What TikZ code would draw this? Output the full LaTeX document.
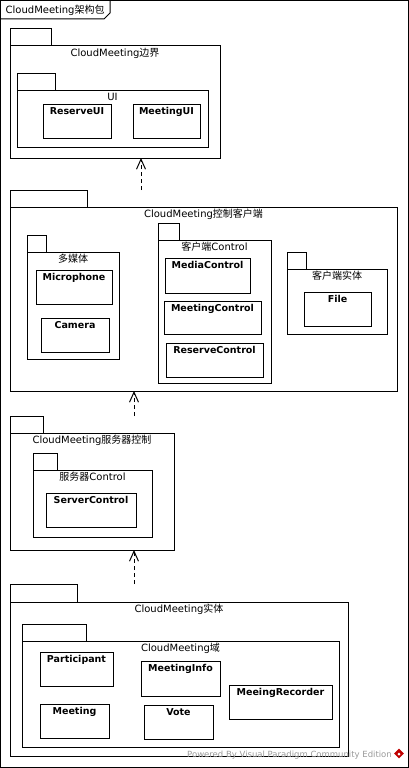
\documentclass[tikz,border=0pt]{standalone}
\usepackage{fontspec}
\setmainfont{DejaVu Sans}
\newfontfamily\cjk{Noto Sans CJK SC}
\usetikzlibrary{arrows.meta,calc,shapes.geometric}
\tikzset{
  line/.style={draw=black, line width=1pt},
  pkgpart/.style={line, rectangle, inner sep=0pt, outer sep=0pt, anchor=north west},
  pkglabel/.style={font=\fontsize{10}{12}\selectfont, inner sep=0pt, anchor=base},
  clsbox/.style={line, rectangle, inner sep=0pt, outer sep=0pt, anchor=north west},
  clslabel/.style={font=\bfseries\fontsize{9.5}{11}\selectfont, inner sep=0pt, anchor=base},
  dep/.style={line, dash pattern=on 4pt off 3pt, -{Straight Barb[length=10pt,width=9pt]}},
  footer/.style={font=\fontsize{8.5}{10}\selectfont, text=black!40, inner sep=0pt, anchor=base east},
}
% name, x1, y1, x2, y2, tab x2, tab y1, label
\newcommand{\pkgbox}[8]{%
  \node[pkgpart, minimum width={(#6-#2)*1pt}, minimum height={(#3-#7)*1pt}] (#1tab) at (#2,#7) {};
  \node[pkgpart, minimum width={(#4-#2)*1pt}, minimum height={(#5-#3)*1pt}] (#1) at (#2,#3) {};
  \node[pkglabel] (#1lbl) at ($(#1.north)+(0,10.5)$) {#8};
}
% name, x1, y1, x2, y2, label
\newcommand{\classbox}[6]{%
  \node[clsbox, minimum width={(#4-#2)*1pt}, minimum height={(#5-#3)*1pt}] (#1) at (#2,#3) {};
  \node[clslabel] (#1lbl) at ($(#1.north)+(0,10.5)$) {#6};
}
\begin{document}
\begin{tikzpicture}[x=1pt,y=-1pt]
\useasboundingbox (0,0) rectangle (409,768);
% outer frame
\draw[line] (0.5,0.5) rectangle (408,767);
\draw[line] (0.5,19) -- (104,19) -- (110,13) -- (110,0.5);
\node[pkglabel, anchor=base west] (title) at (5.5,14) {CloudMeeting{\cjk 架构包}};

% package 1
\pkgbox{P1}{10}{46}{220}{158}{51}{29}{CloudMeeting{\cjk 边界}}
\pkgbox{UI}{17}{90}{208}{147}{55}{73}{UI}
\classbox{ReserveUI}{43}{104}{111}{138}{ReserveUI}
\classbox{MeetingUI}{133}{104}{200}{138}{MeetingUI}

% package 2
\pkgbox{P2}{10}{207}{397}{391}{87}{190}{CloudMeeting{\cjk 控制客户端}}
\pkgbox{MM}{27}{252}{119}{359}{46}{235}{{\cjk 多媒体}}
\classbox{Microphone}{36}{270}{112}{304}{Microphone}
\classbox{Camera}{41}{318}{109}{352}{Camera}
\pkgbox{CC}{158}{240}{271}{383}{179}{223}{{\cjk 客户端}Control}
\classbox{MediaControl}{165}{258}{250}{293}{MediaControl}
\classbox{MeetingControl}{164}{301}{261}{334}{MeetingControl}
\classbox{ReserveControl}{166}{343}{263}{377}{ReserveControl}
\pkgbox{CE}{287}{269}{387}{334}{306}{252}{{\cjk 客户端实体}}
\classbox{File}{304}{292}{371}{326}{File}

% package 3
\pkgbox{P3}{10}{433}{174}{550}{43}{416}{CloudMeeting{\cjk 服务器控制}}
\pkgbox{SC}{33}{470}{152}{537}{57}{453}{{\cjk 服务器}Control}
\classbox{ServerControl}{46}{493}{136}{527}{ServerControl}

% package 4
\pkgbox{P4}{10}{602}{348}{756}{77}{584}{CloudMeeting{\cjk 实体}}
\pkgbox{DM}{22}{641}{339}{747}{86}{624}{CloudMeeting{\cjk 域}}
\classbox{Participant}{40}{652}{113}{686}{Participant}
\classbox{MeetingInfo}{141}{661}{220}{696}{MeetingInfo}
\classbox{MeeingRecorder}{229}{685}{332}{719}{MeeingRecorder}
\classbox{Meeting}{40}{704}{109}{738}{Meeting}
\classbox{Vote}{144}{705}{213}{739}{Vote}

% dependencies
\coordinate (xa) at (141,0);
\coordinate (xb) at (134,0);
\draw[dep] (P2tab.north -| xa) -- (P1.south -| xa);
\draw[dep] (P3tab.north -| xb) -- (P2.south -| xb);
\draw[dep] (P4tab.north -| xb) -- (P3.south -| xb);

% footer
\node[footer] (powered) at (392,757) {Powered By Visual Paradigm Community Edition};
\node[diamond, fill=red!75!black, minimum size=10pt, inner sep=0pt] (logo) at (399,753.5) {};
\fill[white] (logo.center) ++(-1.5,0.5) -- ++(1.5,-1.5) -- ++(1.5,1.5) -- ++(-1.5,1.5) -- cycle;
\end{tikzpicture}
\end{document}
